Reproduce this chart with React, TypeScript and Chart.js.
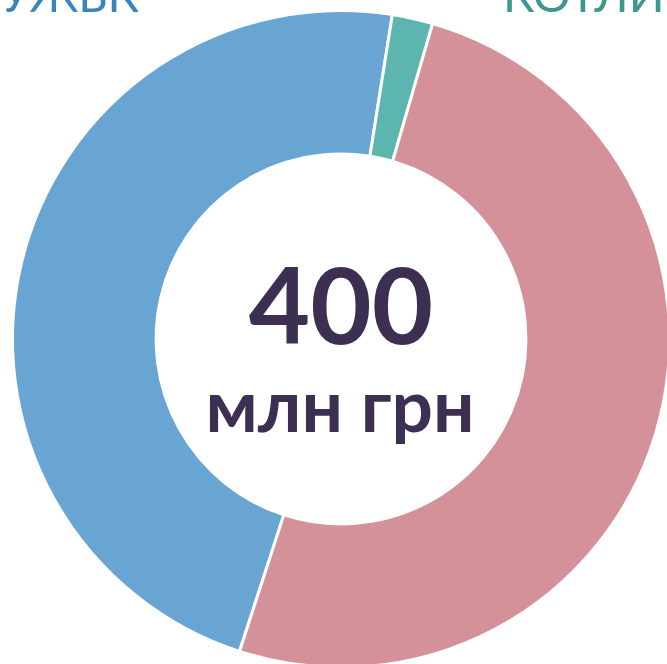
import React, { useEffect, useRef } from "react";
import { Chart, registerables } from "chart.js";

Chart.register(...registerables);

const categories = ["УЖБК", "КОТЛИ", "Інше"];
const values = [190, 8, 202];
const totalLabel = "400";
const unitLabel = "млн грн";
const colors = ["#68A5D2", "#5CB5AF", "#D5919A"];

const centerTextPlugin = {
  id: "centerText",
  afterDraw(chart: any) {
    const ctx = chart.ctx;
    ctx.save();
    ctx.fillStyle = "#3D2F52";
    ctx.textAlign = "center";
    ctx.textBaseline = "alphabetic";
    ctx.font = "bold 106px Lato, 'Noto Sans', sans-serif";
    ctx.fillText(totalLabel, 341, 344);
    ctx.font = "bold 73px Lato, 'Noto Sans', sans-serif";
    ctx.fillText(unitLabel, 340, 432);

    ctx.font = "47px Lato, 'Noto Sans', sans-serif";
    ctx.textAlign = "right";
    ctx.fillStyle = "#3B83B8";
    ctx.fillText(categories[0], 139, 12);
    ctx.textAlign = "left";
    ctx.fillStyle = "#3F9691";
    ctx.fillText(categories[1], 503, 12);
    ctx.restore();
  },
};

export default function App() {
  const ref = useRef<HTMLCanvasElement | null>(null);
  useEffect(() => {
    if (!ref.current) return;
    const chart = new Chart(ref.current, {
      type: "doughnut",
      data: {
        labels: categories,
        datasets: [
          {
            data: values,
            backgroundColor: colors,
            borderColor: "#ffffff",
            borderWidth: 3,
          },
        ],
      },
      options: {
        animation: false,
        responsive: false,
        events: [],
        rotation: 198,
        cutout: "56.3%",
        layout: { padding: { left: 11, top: 9, right: 9, bottom: 11 } },
        plugins: {
          legend: { display: false },
          tooltip: { enabled: false },
        },
      },
      plugins: [centerTextPlugin],
    });
    return () => chart.destroy();
  }, []);
  return (
    <div
      style={{
        position: "fixed",
        left: 0,
        top: 0,
        width: 667,
        height: 664,
        overflow: "hidden",
        background: "#fff",
      }}
    >
      <canvas ref={ref} width={680} height={680} style={{ width: 680, height: 680 }} />
    </div>
  );
}
